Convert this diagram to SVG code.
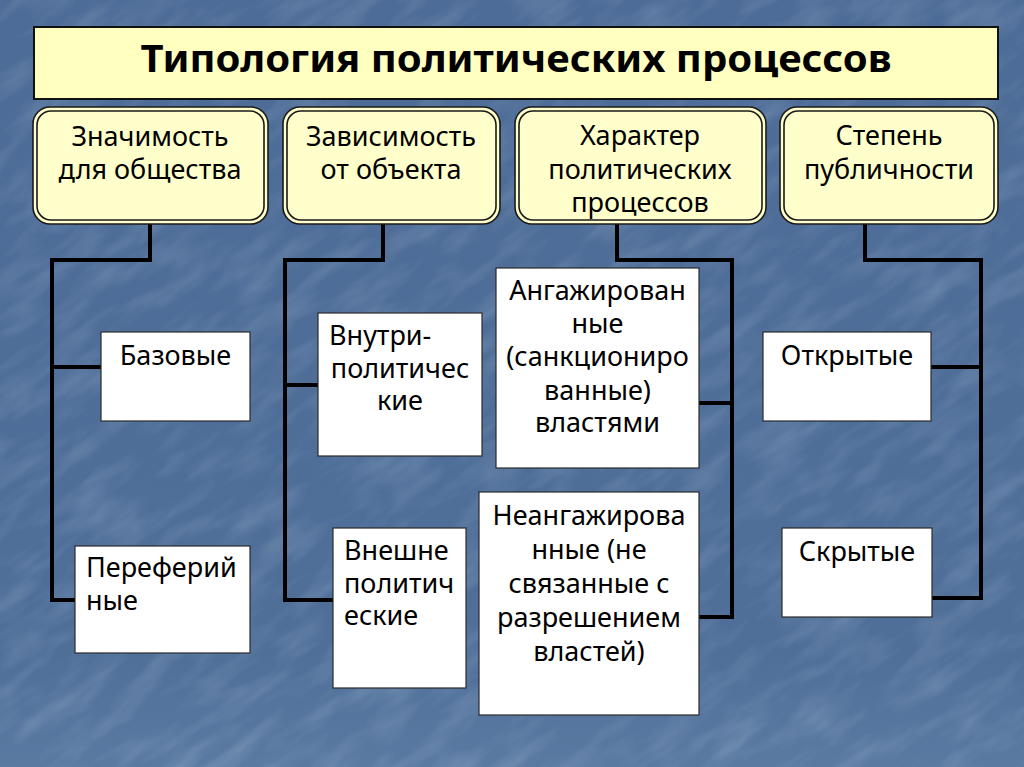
<svg xmlns="http://www.w3.org/2000/svg" width="1024" height="767" viewBox="0 0 1024 767">
<defs>
<linearGradient id="bg" x1="0" y1="0" x2="0" y2="1">
<stop offset="0" stop-color="#4d6c97"/>
<stop offset="0.85" stop-color="#4f6f99"/>
<stop offset="1" stop-color="#5a7aa2"/>
</linearGradient>
<filter id="tex" x="0" y="0" width="100%" height="100%">
<feTurbulence type="fractalNoise" baseFrequency="0.015 0.05" numOctaves="3" seed="4" result="n"/>
<feColorMatrix type="matrix" values="0 0 0 0 0.75  0 0 0 0 0.82  0 0 0 0 0.92  0 0 0 1.1 -0.45"/>
</filter>
<style>
.hdr-o{fill:#ffffcc;stroke:#1a1a1a;stroke-width:1.6}
.hdr-i{fill:none;stroke:#1a1a1a;stroke-width:1.6}
.box{fill:#ffffff;stroke:#2a2a2a;stroke-width:1.2}
.t{font-family:"Noto Sans","DejaVu Sans","Liberation Sans",sans-serif;font-size:27px;fill:#000}
.c{text-anchor:middle}
.title{font-family:"Noto Sans","DejaVu Sans","Liberation Sans",sans-serif;font-size:38px;font-weight:bold;fill:#000;text-anchor:middle}
.ln{fill:none;stroke:#000;stroke-width:4;stroke-linecap:square;stroke-linejoin:miter}
</style>
</defs>
<rect width="1024" height="767" fill="url(#bg)"/>
<g transform="rotate(-35 512 383)"><rect x="-300" y="-300" width="1624" height="1367" filter="url(#tex)" opacity="0.3"/></g>

<g id="title">
<rect x="34" y="27" width="964" height="72" fill="#ffffc0" stroke="#111" stroke-width="2"/>
<text class="title" x="516" y="72" textLength="751" lengthAdjust="spacingAndGlyphs">Типология политических процессов</text>
</g>

<g id="connectors">
<path class="ln" d="M150,224 V260 H52 V600 M52,367 H101 M52,600 H75"/>
<path class="ln" d="M383,224 V260 H285 V600 M285,385 H318 M285,600 H333"/>
<path class="ln" d="M617,224 V260 H732 V617 M699,403 H732 M699,617 H732"/>
<path class="ln" d="M865,224 V260 H981 V598 M931,367 H981 M932,598 H981"/>
</g>

<g id="h1">
<rect class="hdr-o" x="33" y="107" width="235" height="117" rx="17"/>
<rect class="hdr-i" x="37" y="111" width="227" height="109" rx="14"/>
<text class="t c" x="150" y="146">Значимость</text>
<text class="t c" x="150" y="179">для общества</text>
</g>
<g id="h2">
<rect class="hdr-o" x="283" y="107" width="217" height="117" rx="17"/>
<rect class="hdr-i" x="287" y="111" width="209" height="109" rx="14"/>
<text class="t c" x="391" y="146">Зависимость</text>
<text class="t c" x="391" y="179">от объекта</text>
</g>
<g id="h3">
<rect class="hdr-o" x="515" y="107" width="251" height="117" rx="17"/>
<rect class="hdr-i" x="519" y="111" width="243" height="109" rx="14"/>
<text class="t c" x="640" y="145">Характер</text>
<text class="t c" x="640" y="179">политических</text>
<text class="t c" x="640" y="212">процессов</text>
</g>
<g id="h4">
<rect class="hdr-o" x="780" y="107" width="218" height="117" rx="17"/>
<rect class="hdr-i" x="784" y="111" width="210" height="109" rx="14"/>
<text class="t c" x="889" y="145">Степень</text>
<text class="t c" x="889" y="179">публичности</text>
</g>

<g id="n-bazovye">
<rect class="box" x="101" y="332" width="149" height="89"/>
<text class="t c" x="175.5" y="365">Базовые</text>
</g>
<g id="n-periferiynye">
<rect class="box" x="75" y="546" width="175" height="107"/>
<text class="t" x="86" y="577">Переферий</text>
<text class="t" x="86" y="610">ные</text>
</g>
<g id="n-vnutri">
<rect class="box" x="318" y="313" width="164" height="143"/>
<text class="t" x="329" y="345">Внутри-</text>
<text class="t c" x="400" y="378">политичес</text>
<text class="t c" x="400" y="410">кие</text>
</g>
<g id="n-vneshne">
<rect class="box" x="333" y="528" width="133" height="160"/>
<text class="t" x="344" y="560">Внешне</text>
<text class="t" x="344" y="593">политич</text>
<text class="t" x="344" y="625">еские</text>
</g>
<g id="n-angazh">
<rect class="box" x="496" y="268" width="203" height="200"/>
<text class="t c" x="597.5" y="300">Ангажирован</text>
<text class="t c" x="597.5" y="333">ные</text>
<text class="t c" x="597.5" y="366">(санкциониро</text>
<text class="t c" x="597.5" y="400">ванные)</text>
<text class="t c" x="597.5" y="432">властями</text>
</g>
<g id="n-neangazh">
<rect class="box" x="479" y="492" width="220" height="223"/>
<text class="t c" x="589" y="525">Неангажирова</text>
<text class="t c" x="589" y="559">нные (не</text>
<text class="t c" x="589" y="593">связанные с</text>
<text class="t c" x="589" y="627">разрешением</text>
<text class="t c" x="589" y="661">властей)</text>
</g>
<g id="n-otkrytye">
<rect class="box" x="763" y="332" width="168" height="89"/>
<text class="t c" x="847" y="365">Открытые</text>
</g>
<g id="n-skrytye">
<rect class="box" x="782" y="528" width="150" height="89"/>
<text class="t c" x="857" y="561">Скрытые</text>
</g>
</svg>
